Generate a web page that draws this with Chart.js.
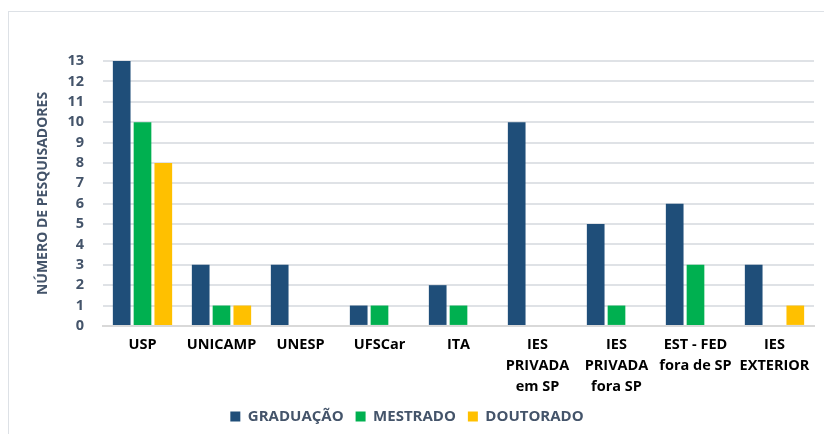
<!DOCTYPE html>
<html>
<head>
<meta charset="utf-8">
<script src="https://cdn.jsdelivr.net/npm/chart.js@4"></script>
<style>
  body { margin: 0; background: #fff; }
  .frame { position: absolute; left: 8px; top: 11px; width: 840px; height: 440px; border: 1px solid #dde1e6; }
  .wrap { position: absolute; left: 0; top: 0; width: 824px; height: 434px; }
</style>
</head>
<body>
<div class="frame"></div>
<div class="wrap"><canvas id="chart"></canvas></div>
<script>
// Data
const categories = ['USP', 'UNICAMP', 'UNESP', 'UFSCar', 'ITA',
    ['IES', 'PRIVADA', 'em SP'], ['IES', 'PRIVADA', 'fora SP'],
    ['EST - FED', 'fora de SP'], ['IES', 'EXTERIOR']]
const graduacao = [13, 3, 3, 1, 2, 10, 5, 6, 3]
const mestrado = [10, 1, 0, 1, 1, 0, 1, 3, 0]
const doutorado = [8, 1, 0, 0, 0, 0, 0, 0, 1]
const yTicks = [0, 1, 2, 3, 4, 5, 6, 7, 8, 9, 10, 11, 12, 13]

const slate = '#44546A'
const fontFam = '"Open Sans", "Liberation Sans", sans-serif'

const ctx = document.getElementById('chart')
new Chart(ctx, {
    type: 'bar',
    data: {
        labels: categories,
        datasets: [
            { label: 'GRADUAÇÃO', data: graduacao, backgroundColor: '#1F4E79' },
            { label: 'MESTRADO', data: mestrado, backgroundColor: '#00B050' },
            { label: 'DOUTORADO', data: doutorado, backgroundColor: '#FFC000' }
        ]
    },
    options: {
        responsive: true,
        maintainAspectRatio: false,
        animation: false,
        datasets: { bar: { categoryPercentage: 0.79, barPercentage: 0.85 } },
        layout: { padding: { top: 61, right: 10, left: 0, bottom: 0 } },
        plugins: {
            tooltip: { enabled: false },
            legend: {
                position: 'bottom',
                labels: {
                    boxWidth: 10, boxHeight: 10, padding: 12,
                    color: slate,
                    font: { family: fontFam, size: 15, weight: 'bold' }
                }
            }
        },
        scales: {
            x: {
                grid: { display: false },
                border: { color: '#d9d9d9', width: 2 },
                ticks: {
                    color: '#000', maxRotation: 0, autoSkip: false, padding: 0,
                    font: { family: fontFam, size: 14.5, weight: 'bold', lineHeight: 1.45 }
                }
            },
            y: {
                min: 0, max: 13,
                afterBuildTicks: axis => { axis.ticks = yTicks.map(v => ({ value: v })) },
                afterFit: axis => { axis.width = 103 },
                grid: { color: '#dfe2e6', lineWidth: 2, drawTicks: false },
                border: { display: false },
                ticks: {
                    color: slate, padding: 19, autoSkip: false,
                    font: { family: fontFam, size: 14.5, weight: 'bold' }
                },
                title: {
                    display: true, text: 'NÚMERO DE PESQUISADORES', color: slate,
                    padding: { top: 35, bottom: 0 },
                    font: { family: fontFam, size: 14, weight: 'bold' }
                }
            }
        }
    }
})
</script>
</body>
</html>
